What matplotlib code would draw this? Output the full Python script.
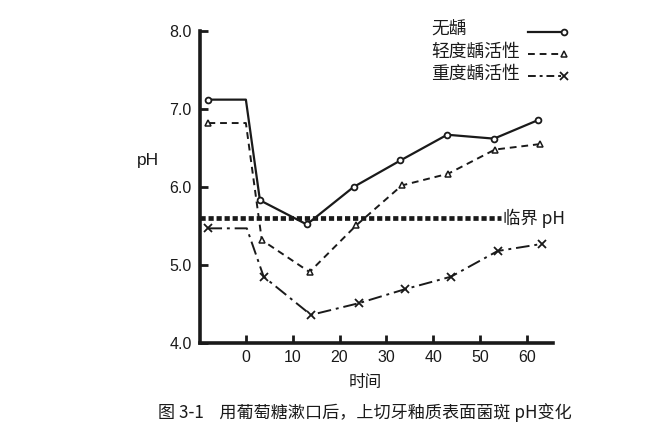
import matplotlib
matplotlib.use("Agg")
import matplotlib.pyplot as plt
from matplotlib.lines import Line2D

plt.rcParams['font.family'] = ['Liberation Sans', 'Noto Sans CJK SC', 'DejaVu Sans']

# ---- data ----
time_a = [-8, 0, 3, 13, 23, 33, 43, 53, 62.5]
ph_none = [7.12, 7.12, 5.83, 5.52, 6.0, 6.34, 6.67, 6.62, 6.86]

time_b = [-8, 0, 3.4, 13.6, 23.6, 33.3, 43.2, 53.2, 62.8]
ph_mild = [6.82, 6.82, 5.32, 4.91, 5.51, 6.02, 6.17, 6.48, 6.55]

time_c = [-8, 0.2, 3.8, 13.9, 24.1, 34.0, 43.8, 53.8, 63.2]
ph_severe = [5.47, 5.47, 4.85, 4.36, 4.51, 4.69, 4.85, 5.18, 5.27]

critical_ph = 5.6
critical_x = [-9.8, 54.5]

series_labels = ['无龋', '轻度龋活性', '重度龋活性']
x_ticks = [0, 10, 20, 30, 40, 50, 60]
y_ticks = [4.0, 5.0, 6.0, 7.0, 8.0]

col = '#1a1a1a'

fig = plt.figure(figsize=(6.52, 4.41), dpi=100)
ax = fig.add_axes([200/652, 1-343/441, 353/652, 312/441])
ax.set_xlim(-9.8, 65.6)
ax.set_ylim(4.0, 8.0)

mk = [0, 2, 3, 4, 5, 6, 7, 8]
ax.plot(time_a, ph_none, color=col, lw=1.6, marker='o', ms=4.2, mfc='white',
        mec=col, mew=1.3, markevery=mk, clip_on=False, zorder=4)
ax.plot(time_b, ph_mild, color=col, lw=1.4, dashes=(3.5, 2.5), marker='^', ms=4.2,
        mfc='white', mec=col, mew=1.1, markevery=mk, clip_on=False, zorder=4)
ax.plot(time_c, ph_severe, color=col, lw=1.4, dashes=(7, 2.5, 1.5, 2.5), marker='x',
        ms=6, mec=col, mew=1.3, markevery=mk, clip_on=False, zorder=4)

ax.plot(critical_x, [critical_ph, critical_ph], color=col, lw=3.4,
        dashes=(1.1, 0.6), solid_capstyle='butt', dash_capstyle='butt', zorder=3)
ax.text(55.0, critical_ph, '临界 pH', fontsize=12.5, va='center', ha='left',
        family=['Noto Sans CJK SC'], color=col)

for s in ['top', 'right']:
    ax.spines[s].set_visible(False)
for s in ['left', 'bottom']:
    ax.spines[s].set_linewidth(2.6)
    ax.spines[s].set_color(col)

ax.set_xticks(x_ticks)
ax.set_xticklabels([str(v) for v in x_ticks])
ax.set_yticks(y_ticks)
ax.set_yticklabels([f'{v:.1f}' for v in y_ticks])
ax.tick_params(direction='in', length=6, width=2, colors=col, labelsize=11.5, pad=6)
ax.tick_params(axis='x', pad=5)

fig.text(148/652, 1-160/441, 'pH', fontsize=12.5, ha='center', va='center', color=col)
fig.text(365/652, 1-382/441, '时间', fontsize=12, ha='center', va='center',
         family=['Noto Sans CJK SC'], color=col)
fig.text(365/652, 1-413/441, '图 3-1    用葡萄糖漱口后，上切牙釉质表面菌斑 pH变化',
         fontsize=12.3, ha='center', va='center',
         family=['Noto Sans CJK SC', 'DejaVu Sans'], color=col)

# legend (manual)
rows = [30, 52, 74]
styles = [dict(ls='-', marker='o', ms=4.2, mfc='white', mew=1.3, lw=1.6),
          dict(dashes=(3.5, 2.5), marker='^', ms=4.2, mfc='white', mew=1.1, lw=1.4),
          dict(dashes=(4, 2, 1.5, 2), marker='x', ms=6, mew=1.3, lw=1.4)]
for lab, yy, st in zip(series_labels, rows, styles):
    fy = 1 - yy/441
    fig.text(431/652, fy, lab, fontsize=12.8, ha='left', va='center',
             family=['Noto Sans CJK SC'], color=col)
    ln = Line2D([528/652, 564/652], [fy - 2/441, fy - 2/441], color=col, mec=col,
                markevery=[1], transform=fig.transFigure, **st)
    fig.add_artist(ln)

fig.savefig('out.png', dpi=100, facecolor='white')
